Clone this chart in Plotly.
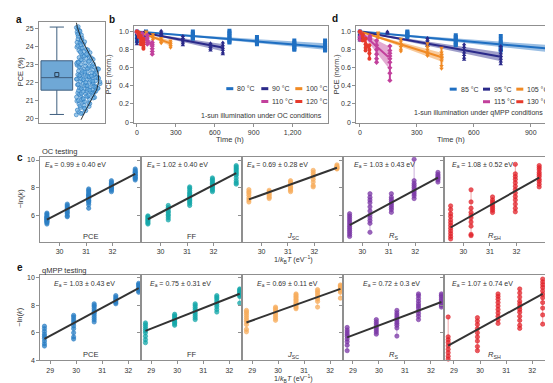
import math
import plotly.graph_objects as go

W, H = 553, 383
def px(x): return x / W
def py(y): return 1 - y / H

FONT = "Liberation Sans"
TXT = "#333333"
FRAME = "#8f8f8f"

# ---------------- panel a data ----------------
a_q1 = [21.58]
a_median = [22.27]
a_q3 = [23.20]
a_low = [20.24]
a_high = [25.06]
a_mean = [22.44]
a_pce = [20.22, 20.31, 20.38, 20.45, 20.29, 20.48,
         20.55, 20.62, 20.68, 20.74, 20.81, 20.87, 20.93, 20.98, 20.58, 20.71, 20.84, 20.95,
         21.02, 21.07, 21.12, 21.18, 21.23, 21.28, 21.33, 21.38, 21.43, 21.48, 21.05, 21.15,
         21.25, 21.35, 21.45, 21.10, 21.20, 21.30, 21.40, 21.49,
         21.52, 21.56, 21.60, 21.64, 21.68, 21.72, 21.76, 21.80, 21.84, 21.88, 21.92, 21.96,
         21.54, 21.62, 21.70, 21.78, 21.86, 21.94, 21.58, 21.66, 21.74, 21.82, 21.90, 21.98,
         21.51, 21.69,
         22.02, 22.06, 22.10, 22.14, 22.18, 22.22, 22.26, 22.30, 22.34, 22.38, 22.42, 22.46,
         22.04, 22.12, 22.20, 22.28, 22.36, 22.44, 22.08, 22.16, 22.24, 22.32, 22.40, 22.48,
         22.01, 22.19, 22.37,
         22.52, 22.56, 22.60, 22.64, 22.68, 22.72, 22.76, 22.80, 22.84, 22.88, 22.92, 22.96,
         22.54, 22.62, 22.70, 22.78, 22.86, 22.94, 22.58, 22.74, 22.90, 22.99,
         23.03, 23.08, 23.13, 23.18, 23.23, 23.28, 23.33, 23.38, 23.43, 23.48, 23.06, 23.16,
         23.26, 23.36, 23.46, 23.11,
         23.53, 23.59, 23.65, 23.71, 23.77, 23.83, 23.89, 23.95, 23.56, 23.68, 23.80, 23.92,
         24.04, 24.11, 24.18, 24.25, 24.32, 24.39, 24.46, 24.08, 24.22, 24.36,
         24.55, 24.63, 24.71, 24.79, 24.87, 24.95, 25.03, 25.08, 24.67, 24.83]
a_fit_mu = 22.2
a_fit_sigma = 1.4

# ---------------- panel b data (OC) ----------------
b_labels = ["80 °C", "90 °C", "100 °C", "110 °C", "120 °C"]
b80_t = [0, 70, 431, 713, 925, 1213, 1450]
b80_v = [[1.0, 0.99, 0.97, 0.95, 0.92, 0.89], [1.0, 0.98, 0.96, 0.94],
         [1.0, 0.98, 0.97, 0.95, 0.94, 0.93, 0.92],
         [1.01, 0.99, 0.97, 0.95, 0.93, 0.91, 0.89, 0.88],
         [0.94, 0.92, 0.91, 0.89, 0.88, 0.87, 0.86],
         [0.90, 0.88, 0.86, 0.85, 0.83, 0.81, 0.80],
         [0.90, 0.87, 0.85, 0.83, 0.82, 0.80, 0.79]]
b90_t = [0, 60, 187, 354, 567, 662]
b90_v = [[1.0, 0.97, 0.93, 0.89, 0.86], [1.0, 0.99, 0.97, 0.95],
         [1.01, 0.99, 0.98, 0.97, 0.96], [0.95, 0.93, 0.91, 0.89, 0.87, 0.85],
         [0.87, 0.85, 0.83, 0.81, 0.79], [0.88, 0.85, 0.82, 0.80, 0.77, 0.75]]
b100_t = [0, 72, 123, 187, 259]
b100_v = [[1.0, 0.98], [1.0, 0.99, 0.97, 0.96], [0.97, 0.95, 0.93, 0.91],
          [0.93, 0.91, 0.90, 0.88, 0.87], [0.90, 0.88, 0.86, 0.84, 0.82]]
b110_t = [0, 40, 80, 118]
b110_v = [[1.0, 0.99], [0.98, 0.96, 0.94, 0.92], [0.96, 0.93, 0.90, 0.88, 0.86],
          [0.88, 0.86, 0.84, 0.81, 0.78, 0.75]]
b120_t = [0, 15, 30, 50]
b120_v = [[1.0], [0.99, 0.96, 0.94], [0.95, 0.92, 0.89, 0.86], [0.92, 0.89, 0.86, 0.83, 0.81]]
b_fit_t = [1450, 670, 260, 120, 50]
b_fit_v = [0.83, 0.82, 0.87, 0.85, 0.87]
b_band_lo = [0.80, 0.78, 0.84, 0.81, 0.84]
b_band_hi = [0.87, 0.86, 0.90, 0.89, 0.90]

# ---------------- panel d data (qMPP) ----------------
d_labels = ["85 °C", "95 °C", "105 °C", "115 °C", "130 °C"]
d85_t = [0, 250, 505, 742, 995]
d85_v = [[1.0, 0.98, 0.95, 0.92], [1.0, 0.99, 0.97, 0.96, 0.95, 0.94],
         [0.96, 0.94, 0.92, 0.90, 0.88, 0.86, 0.85],
         [0.95, 0.91, 0.88, 0.86, 0.84, 0.82, 0.80, 0.79],
         [0.91, 0.86, 0.83, 0.81, 0.79, 0.77, 0.75, 0.74]]
d95_t = [0, 145, 356, 549, 742]
d95_v = [[1.0, 0.97, 0.93, 0.90], [1.0, 0.99, 0.98],
         [0.93, 0.91, 0.89, 0.87, 0.85, 0.84],
         [0.86, 0.83, 0.80, 0.77, 0.74, 0.71, 0.69],
         [0.84, 0.80, 0.76, 0.73, 0.70, 0.67, 0.64]]
d105_t = [0, 96, 216, 356, 430]
d105_v = [[1.0, 0.98], [0.99, 0.97, 0.95, 0.93], [0.92, 0.89, 0.86, 0.83, 0.80, 0.78],
          [0.87, 0.83, 0.80, 0.77, 0.75, 0.73], [0.82, 0.77, 0.74, 0.71, 0.68, 0.62, 0.59]]
d115_t = [0, 53, 88, 158]
d115_v = [[1.0, 0.94, 0.91], [0.95, 0.93, 0.91], [0.90, 0.85, 0.80, 0.75, 0.70, 0.66],
          [0.84, 0.79, 0.76, 0.73, 0.70, 0.66, 0.60, 0.54, 0.46]]
d130_t = [0, 15, 30, 50]
d130_v = [[1.0], [0.97, 0.94, 0.90], [0.92, 0.86, 0.82, 0.79], [0.85, 0.80, 0.76, 0.70]]
d_fit_t = [1000, 750, 440, 150, 50]
d_fit_v = [0.81, 0.72, 0.71, 0.72, 0.80]
d_band_lo = [0.77, 0.67, 0.66, 0.60, 0.76]
d_band_hi = [0.85, 0.77, 0.76, 0.84, 0.84]

# ---------------- panel c data (OC Arrhenius) ----------------
c_x = [29.52, 30.29, 31.10, 31.96, 32.86]
c_pce = [[5.35, 5.45, 5.50, 5.55, 5.62, 5.68, 5.70, 5.78, 5.82, 5.85, 5.92, 6.00, 6.08, 6.15],
         [5.88, 5.95, 6.10, 6.20, 6.30, 6.42, 6.50, 6.60, 6.70, 6.80],
         [6.50, 6.75, 6.90, 7.00, 7.05, 7.10, 7.20, 7.25, 7.30, 7.40, 7.45, 7.50, 7.60, 7.70, 7.80, 7.90],
         [7.70, 7.80, 7.90, 7.95, 8.00, 8.10, 8.15, 8.20, 8.30, 8.40, 8.50],
         [8.55, 8.65, 8.70, 8.75, 8.85, 8.90, 8.95, 9.05, 9.10, 9.15, 9.25, 9.35]]
c_ff = [[5.35, 5.42, 5.50, 5.58, 5.65, 5.72, 5.80, 5.88, 5.95],
        [5.65, 5.80, 5.95, 6.05, 6.20, 6.30, 6.45, 6.55, 6.70],
        [6.70, 6.85, 6.95, 7.05, 7.15, 7.25, 7.35, 7.45, 7.55, 7.65, 7.80, 7.95, 8.05],
        [7.70, 7.80, 7.90, 8.00, 8.10, 8.20, 8.30, 8.40, 8.50, 8.60, 8.70],
        [8.25, 8.35, 8.50, 8.70, 8.90, 9.00, 9.10, 9.20, 9.30, 9.40, 9.50, 9.60]]
c_jsc = [[6.95, 7.10, 7.25, 7.45, 7.60, 7.70, 7.85],
         [7.20, 7.30, 7.40, 7.50, 7.60, 7.70, 7.80],
         [7.70, 7.80, 7.90, 8.00, 8.10, 8.25, 8.40, 8.50],
         [8.05, 8.15, 8.40, 8.60, 8.80, 8.95, 9.10, 9.25],
         [9.35, 9.40, 9.45, 9.50, 9.55, 9.65]]
c_rs = [[4.45, 4.60, 4.75, 4.90, 5.05, 5.20, 5.35, 5.50, 5.65, 5.80, 5.95, 6.10],
        [4.75, 5.40, 5.60, 5.80, 6.00, 6.30, 6.60, 6.90, 7.10, 7.30, 7.55],
        [6.20, 6.40, 6.55, 6.70, 6.85, 7.00, 7.15, 7.30, 7.55],
        [7.20, 7.40, 7.55, 7.70, 7.85, 8.00, 8.15, 8.30, 8.50, 10.05],
        [8.40, 8.55, 8.65, 8.75, 8.85, 8.95, 9.10]]
c_rsh = [[4.27, 4.45, 4.65, 4.85, 5.05, 5.25, 5.45, 5.65, 5.90, 6.10, 6.40, 6.67],
         [4.51, 4.60, 5.20, 5.50, 5.80, 6.00, 6.20, 6.50, 6.96, 7.84],
         [6.19, 6.35, 6.50, 6.65, 6.80, 6.95, 7.10, 7.32],
         [6.24, 6.50, 6.80, 7.10, 7.35, 7.60, 7.85, 8.10, 8.35, 8.60, 8.80, 9.00, 9.69],
         [8.05, 8.25, 8.45, 8.60, 8.80, 8.95, 9.10, 9.30, 9.45, 9.60]]
c_fit_start = [5.68, 5.70, 7.14, 5.28, 5.10]
c_fit_end = [8.99, 9.05, 9.44, 8.72, 8.72]
c_ea = ["0.99 ± 0.40", "1.02 ± 0.40", "0.69 ± 0.28", "1.03 ± 0.43", "1.08 ± 0.52"]

# ---------------- panel e data (qMPP Arrhenius) ----------------
e_x = [28.78, 29.90, 30.69, 31.52, 32.40]
e_pce = [[5.04, 5.20, 5.40, 5.60, 5.75, 5.90, 6.10, 6.30, 6.48],
         [5.55, 5.70, 6.00, 6.30, 6.50, 6.70, 6.85, 7.00, 7.15, 7.27],
         [6.79, 6.95, 7.10, 7.25, 7.40, 7.50, 7.60, 7.75, 7.90, 8.00, 8.11],
         [8.11, 8.20, 8.30, 8.40, 8.50, 8.60, 8.71],
         [8.95, 9.05, 9.15, 9.25, 9.35, 9.45, 9.52, 9.60]]
e_ff = [[5.28, 5.50, 5.75, 6.00, 6.15, 6.30, 6.45, 6.60, 6.72],
        [6.55, 6.65, 6.75, 6.85, 6.95, 7.05, 7.15, 7.25, 7.35],
        [6.96, 7.10, 7.25, 7.40, 7.55, 7.70, 7.85, 8.00, 8.11],
        [7.51, 7.70, 7.90, 8.05, 8.20, 8.35, 8.50, 8.60, 8.71],
        [8.16, 8.64, 8.72, 8.80, 8.88, 8.96, 9.04, 9.12, 9.19]]
e_jsc = [[6.07, 6.25, 6.60, 6.80, 6.95, 7.10, 7.25, 7.40, 7.52, 7.63],
         [6.91, 7.05, 7.20, 7.35, 7.50, 7.65, 7.77, 7.87],
         [7.75, 7.85, 7.95, 8.05, 8.15, 8.25, 8.35, 8.45, 8.55, 8.65, 8.75, 8.83],
         [7.87, 8.28, 8.45, 8.60, 8.75, 8.90, 9.02, 9.14],
         [8.52, 8.95, 9.05, 9.15, 9.25, 9.35, 9.42, 9.48]]
e_rs = [[4.70, 5.10, 5.35, 5.55, 5.75, 5.90, 6.05, 6.20, 6.39],
        [5.90, 6.05, 6.20, 6.35, 6.50, 6.65, 6.80, 6.96],
        [5.76, 6.35, 6.55, 6.70, 6.85, 7.00, 7.15, 7.30, 7.45, 7.63],
        [6.96, 7.20, 7.40, 7.60, 7.80, 7.95, 8.10, 8.30, 8.50, 8.70, 8.83],
        [7.87, 8.00, 8.15, 8.30, 8.45, 8.60, 8.72, 8.83]]
e_rsh = [[3.55, 4.09, 4.30, 4.55, 4.80, 5.05, 5.30, 5.50, 5.71, 7.15],
         [4.70, 5.00, 5.40, 5.70, 6.00, 6.30, 6.60, 6.85, 7.10],
         [6.68, 6.95, 7.20, 7.45, 7.70, 7.95, 8.20, 8.45, 8.65, 8.83],
         [6.32, 6.55, 6.90, 7.20, 7.50, 7.70, 7.90, 8.10, 8.30, 8.60, 8.90, 9.19],
         [6.63, 7.30, 7.80, 8.20, 8.55, 8.80, 9.05, 9.30, 9.50, 9.70, 9.91]]
e_fit_start = [5.55, 6.14, 6.75, 5.67, 5.07]
e_fit_end = [9.25, 8.84, 9.20, 8.24, 8.84]
e_ea = ["1.03 ± 0.43", "0.75 ± 0.31", "0.69 ± 0.11", "0.72 ± 0.3", "1.07 ± 0.74"]

metric_names = ["PCE", "FF", "<i>J</i><sub>SC</sub>", "<i>R</i><sub>S</sub>", "<i>R</i><sub>SH</sub>"]

# ---------------- styles ----------------
series_colors = ["#1f6fc2", "#2b2a8a", "#f08a24", "#c2409c", "#e63a2c"]
series_symbols = ["square", "triangle-up", "triangle-down", "diamond", "circle"]
metric_colors = ["#2c7fc4", "#16a7aa", "#f7ad5e", "#7b38a6", "#e1242b"]

def rgba(hexc, a):
    h = hexc.lstrip("#")
    return "rgba(%d,%d,%d,%.2f)" % (int(h[0:2], 16), int(h[2:4], 16), int(h[4:6], 16), a)

fig = go.Figure()
layout = dict(width=W, height=H, autosize=False, margin=dict(l=0, r=0, t=0, b=0),
              paper_bgcolor="white", plot_bgcolor="white", showlegend=False,
              font=dict(family=FONT, size=7, color=TXT))

def axis_style(**kw):
    d = dict(showline=True, mirror=True, linecolor=FRAME, linewidth=1, showgrid=False,
             zeroline=False, ticks="outside", ticklen=3, tickwidth=0.8, tickcolor=FRAME,
             tickfont=dict(size=7, color=TXT, family=FONT))
    d.update(kw)
    return d

shapes = []
annotations = []
def note(text, x, y, size=7, xanchor="center", angle=0, color=TXT):
    annotations.append(dict(text=text, x=px(x), y=py(y), xref="paper", yref="paper",
                            xanchor=xanchor, yanchor="middle", showarrow=False,
                            textangle=angle, font=dict(size=size, color=color, family=FONT)))

# ---------------- panel a ----------------
layout["xaxis"] = axis_style(domain=[px(31), px(97)], anchor="y", range=[0, 1],
                             showticklabels=False, ticks="")
layout["yaxis"] = axis_style(domain=[py(115), py(13.3)], anchor="x", range=[19.78, 25.33],
                             tickvals=[20, 21, 22, 23, 24, 25])
fig.add_trace(go.Box(x=[0.27], q1=a_q1, median=a_median, q3=a_q3, lowerfence=a_low,
                     upperfence=a_high, width=0.48, whiskerwidth=0.45,
                     fillcolor="#6fa8d6", line=dict(color="#3f5f7f", width=1),
                     boxpoints=False, xaxis="x", yaxis="y"))
fig.add_trace(go.Scatter(x=[0.27], y=a_mean, mode="markers", xaxis="x", yaxis="y",
                         marker=dict(symbol="square-open", size=4, color="#2a3f55",
                                     line=dict(width=1))))
base, amp = 0.535, 0.37
def half_width(v):
    return amp * math.exp(-((v - a_fit_mu) ** 2) / (2 * a_fit_sigma ** 2))
cloud_x = []
for i, v in enumerate(a_pce):
    frac = (i * 0.6180339887) % 1.0
    cloud_x.append(base + 0.03 + frac * half_width(v))
fig.add_trace(go.Scatter(x=cloud_x, y=a_pce, mode="markers", xaxis="x", yaxis="y",
                         marker=dict(size=4.0, color=rgba("#6aaee0", 0.65),
                                     line=dict(color="#2a78bd", width=0.6))))
curve_y = [19.95 + 0.05 * k for k in range(108)]
curve_x = [base + half_width(v) for v in curve_y]
fig.add_trace(go.Scatter(x=curve_x, y=curve_y, mode="lines", xaxis="x", yaxis="y",
                         line=dict(color="#222222", width=0.9), cliponaxis=False))

# ---------------- panels b & d ----------------
def time_panel(ax, series_t, series_v, fit_t, fit_v, lo, hi):
    xa, ya = "x" + ax, "y" + ax
    for k in range(5):
        col = series_colors[k]
        fig.add_trace(go.Scatter(x=[0, fit_t[k], fit_t[k], 0], y=[1.0, hi[k], lo[k], 1.0],
                                 fill="toself", fillcolor=rgba(col, 0.45), mode="lines",
                                 line=dict(width=0), xaxis=xa, yaxis=ya))
    for k in range(5):
        col = series_colors[k]
        ex, ey = [], []
        mx, my = [], []
        for t, vals in zip(series_t[k], series_v[k]):
            ex += [t, t, None]
            ey += [min(vals), max(vals), None]
            mx += [t] * len(vals)
            my += vals
        fig.add_trace(go.Scatter(x=ex, y=ey, mode="lines", line=dict(color=col, width=2),
                                 xaxis=xa, yaxis=ya))
        fig.add_trace(go.Scatter(x=mx, y=my, mode="markers", xaxis=xa, yaxis=ya,
                                 marker=dict(symbol=series_symbols[k], size=4, color=col)))
        fig.add_trace(go.Scatter(x=[0, fit_t[k]], y=[1.0, fit_v[k]], mode="lines",
                                 line=dict(color=col, width=2), xaxis=xa, yaxis=ya))

layout["xaxis2"] = axis_style(domain=[px(125.7), px(320.3)], anchor="y2", range=[-25, 1475],
                              tickvals=[0, 300, 600, 900, 1200],
                              ticktext=["0", "300", "600", "900", "1,200"])
layout["yaxis2"] = axis_style(domain=[py(115), py(17.5)], anchor="x2", range=[-0.008, 1.058],
                              tickvals=[0, 0.2, 0.4, 0.6, 0.8, 1.0], ticklen=2.5,
                              ticktext=["0", "0.2", "0.4", "0.6", "0.8", "1.0"])
layout["xaxis3"] = axis_style(domain=[px(347.7), px(542.3)], anchor="y3", range=[-22, 1003],
                              tickvals=[0, 300, 600, 900])
layout["yaxis3"] = axis_style(domain=[py(115), py(17.5)], anchor="x3", range=[-0.008, 1.058],
                              tickvals=[0, 0.2, 0.4, 0.6, 0.8, 1.0], ticklen=2.5,
                              ticktext=["0", "0.2", "0.4", "0.6", "0.8", "1.0"])
note("Time (h)", 222, 131.5, 7.5)
note("Time (h)", 443, 131.5, 7.5)
note("PCE (norm.)", 100, 66, 7.2, angle=-90)
note("PCE (norm.)", 328, 66, 7.2, angle=-90)

time_panel("2", [b80_t, b90_t, b100_t, b110_t, b120_t], [b80_v, b90_v, b100_v, b110_v, b120_v],
           b_fit_t, b_fit_v, b_band_lo, b_band_hi)
time_panel("3", [d85_t, d95_t, d105_t, d115_t, d130_t], [d85_v, d95_v, d105_v, d115_v, d130_v],
           d_fit_t, d_fit_v, d_band_lo, d_band_hi)

def legend_item(x0, y0, label, color):
    shapes.append(dict(type="line", xref="paper", yref="paper", x0=px(x0), x1=px(x0 + 7),
                       y0=py(y0), y1=py(y0), line=dict(color=color, width=3)))
    note(label, x0 + 9, y0, 7, xanchor="left")

b_leg_pos = [(218.3, 80.5), (253.3, 80.5), (287.3, 80.5), (253.3, 93.5), (287.3, 93.5)]
d_leg_pos = [(441.7, 81), (475, 81), (508.3, 81), (475, 93.7), (508.3, 93.7)]
for k in range(5):
    legend_item(b_leg_pos[k][0], b_leg_pos[k][1], b_labels[k], series_colors[k])
    legend_item(d_leg_pos[k][0], d_leg_pos[k][1], d_labels[k], series_colors[k])
note("1-sun illumination under OC conditions", 316, 107.3, 7, xanchor="right")
note("1-sun illumination under qMPP conditions", 537, 105.3, 7, xanchor="right")

# ---------------- panels c & e ----------------
col_edges = [32.3, 133.3, 234.3, 335.0, 436.0, 537.3]
def arrhenius_row(first_ax, row_top, row_bot, xr, xt, yr, xs, data, fstart, fend, eas,
                  ea_pos, ea_y, label_y):
    for k in range(5):
        n = str(first_ax + k)
        layout["xaxis" + n] = axis_style(domain=[px(col_edges[k]), px(col_edges[k + 1])],
                                         anchor="y" + n, range=xr, tickvals=xt)
        layout["yaxis" + n] = axis_style(domain=[py(row_bot), py(row_top)], anchor="x" + n,
                                         range=yr, tickvals=[4, 6, 8, 10],
                                         showticklabels=(k == 0))
        col = metric_colors[k]
        ex, ey, mx, my = [], [], [], []
        for xv, vals in zip(xs, data[k]):
            ex += [xv, xv, None]
            ey += [min(vals), max(vals), None]
            mx += [xv] * len(vals)
            my += vals
        fig.add_trace(go.Scatter(x=ex, y=ey, mode="lines", line=dict(color=rgba(col, 0.5), width=0.8),
                                 xaxis="x" + n, yaxis="y" + n, cliponaxis=False))
        fig.add_trace(go.Scatter(x=mx, y=my, mode="markers", xaxis="x" + n, yaxis="y" + n,
                                 cliponaxis=False,
                                 marker=dict(size=4.3, color=rgba(col, 0.75),
                                             line=dict(color=col, width=0.6))))
        fig.add_trace(go.Scatter(x=[xs[0], xs[-1]], y=[fstart[k], fend[k]], mode="lines",
                                 line=dict(color="#333333", width=2),
                                 xaxis="x" + n, yaxis="y" + n))
        note("<i>E</i><sub>a</sub> = " + eas[k] + " eV", ea_pos[k], ea_y, 7, xanchor="left")
        note(metric_names[k], (col_edges[k] + col_edges[k + 1]) / 2, label_y, 7.5)

arrhenius_row(4, 149.3, 235.0, [29.27, 33.09], [30, 31, 32], [4.08, 10.24], c_x,
              [c_pce, c_ff, c_jsc, c_rs, c_rsh], c_fit_start, c_fit_end, c_ea,
              [35, 136.7, 237.2, 344, 441.7], 158.0, 229.5)
arrhenius_row(9, 269.3, 355.0, [28.62, 32.5], [29, 30, 31, 32], [4.0, 10.17], e_x,
              [e_pce, e_ff, e_jsc, e_rs, e_rsh], e_fit_start, e_fit_end, e_ea,
              [44.3, 140, 246.7, 353.3, 441.7], 277.5, 349.5)

xtitle = "1/<i>k</i><sub>B</sub><i>T</i> (eV<sup>−1</sup>)"
note(xtitle, 285, 253, 7.2)
note(xtitle, 285, 373.5, 7.2)
note("−ln(<i>k</i>)", 12, 192.3, 7.5, angle=-90)
note("−ln(<i>k</i>)", 12, 312.0, 7.5, angle=-90)
note("PCE (%)", 12, 63, 7.5, angle=-90)
note("OC testing", 31.5, 144.5, 7.5, xanchor="left")
note("qMPP testing", 31.5, 264.5, 7.5, xanchor="left")
for lab, lx, ly in [("a", 11, 11), ("b", 104, 11), ("d", 326.7, 10), ("c", 11.7, 150), ("e", 11.7, 261)]:
    note("<b>" + lab + "</b>", lx, ly, 10, color="#111111")

layout["shapes"] = shapes
layout["annotations"] = annotations
fig.update_layout(**layout)
fig.write_html("out.html")
